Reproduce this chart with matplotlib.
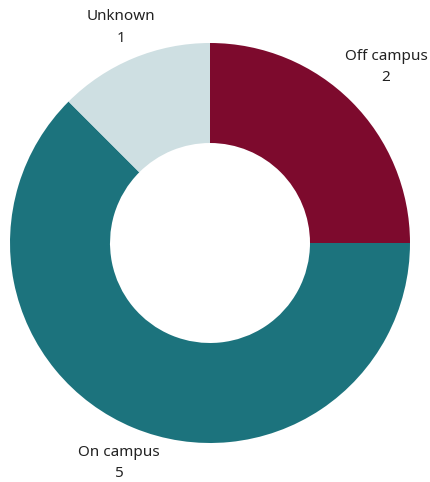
import matplotlib
matplotlib.use("Agg")
import matplotlib.pyplot as plt
import numpy as np

categories = ["Off campus", "On campus", "Unknown"]
counts = [2, 5, 1]
colors = ["#7D0A2D", "#1C737D", "#CEDFE2"]
label_dist = [1.245, 1.19, 1.165]

plt.rcParams['font.family'] = ['Noto Sans', 'DejaVu Sans']

fig = plt.figure(figsize=(4.30, 4.82), dpi=100)
ax = fig.add_axes([0, 0, 1, 1])

wedges, _ = ax.pie(counts, colors=colors, startangle=90,
                   counterclock=False, radius=1.0,
                   wedgeprops=dict(width=0.5, linewidth=0))

for w, cat, n, d in zip(wedges, categories, counts, label_dist):
    ang = np.deg2rad((w.theta1 + w.theta2) / 2)
    ax.text(d * np.cos(ang), d * np.sin(ang), f"{cat}\n{n}",
            ha="center", va="center", fontsize=11, color="#222222",
            linespacing=1.6)

ax.set_xlim(-1.05, 1.10)
ax.set_ylim(-1.195, 1.215)
ax.set_aspect("auto")
ax.axis("off")

fig.savefig("out.png", dpi=100)
